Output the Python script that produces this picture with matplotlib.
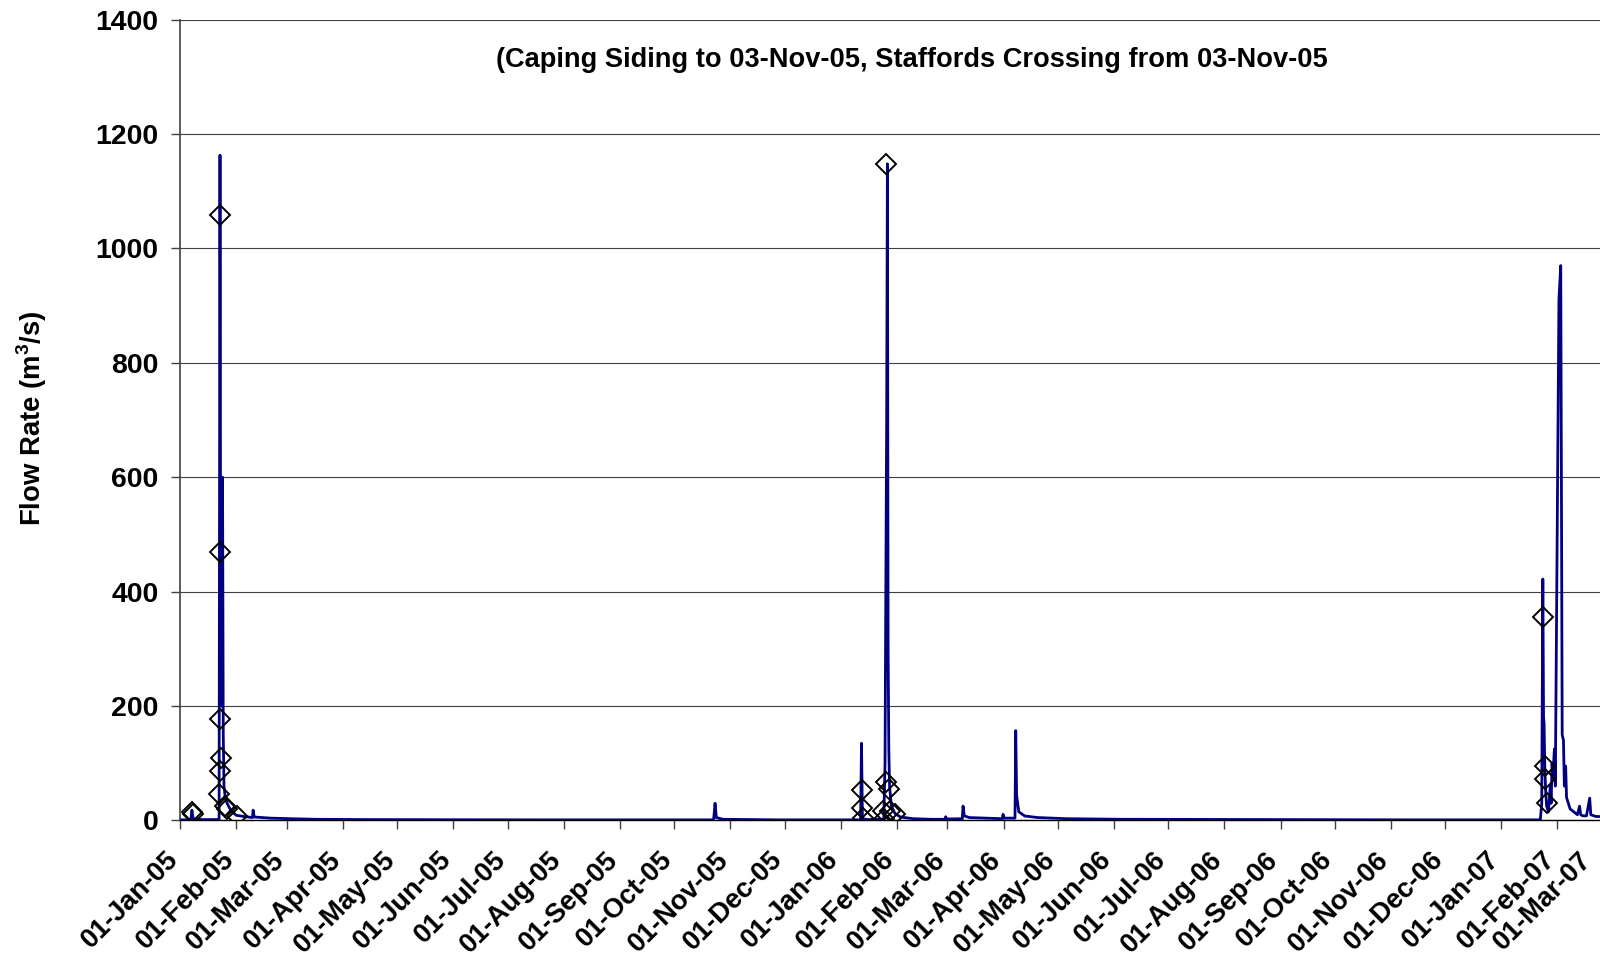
import numpy as np
import pandas as pd
import matplotlib
matplotlib.use("Agg")
import matplotlib.pyplot as plt
import matplotlib.dates as mdates
import matplotlib.transforms as mtransforms

plt.rcParams['font.family'] = ['Liberation Sans', 'DejaVu Sans']
plt.rcParams['font.weight'] = 'bold'
plt.rcParams['mathtext.fontset'] = 'custom'
plt.rcParams['mathtext.rm'] = 'Liberation Sans:bold'
plt.rcParams['mathtext.bf'] = 'Liberation Sans:bold'

start = pd.Timestamp("2005-01-01")

# continuous flow record (days since 01-Jan-05, m3/s)
flow_day = [0, 6.0, 6.6, 7.0, 7.4, 8.5, 21.6, 22.1, 22.5, 23.0, 23.5, 23.9,
            24.3, 25.0, 26.0, 28.0, 31.0, 35.0, 40.0, 40.4, 41.0, 50, 61, 75,
            100, 150, 200, 250, 294.8, 295.6, 296.3, 300, 330, 360, 376.0,
            376.5, 377.0, 380, 388.8, 389.5, 389.9, 390.4, 390.8, 391.2,
            391.6, 392.0, 393.0, 395.0, 398.0, 405, 415, 422.5, 423.0, 423.6,
            432.2, 432.6, 433.3, 436, 445, 454.3, 454.7, 455.3, 461.3, 461.7,
            462.2, 463.4, 466.7, 474, 490, 520, 600, 680, 751.5, 752.3, 752.9,
            753.3, 753.6, 754.0, 754.5, 755.0, 756.0, 757.0, 757.5, 758.0,
            758.5, 759.3, 759.8, 761.8, 762.8, 763.6, 764.3, 764.8, 765.5,
            766.0, 767.0, 768.0, 770.0, 772.0, 773.2, 773.8, 775.0, 777.0,
            778.8, 779.4, 782.0, 792.0]
flow_val = [1, 1, 18, 8, 3, 1.5, 1.5, 1163, 300, 200, 600, 150,
            60, 40, 30, 18, 9, 7, 5, 18, 6, 4, 3, 2,
            1.5, 1.2, 1, 1, 1, 30, 5, 2, 1, 1, 1,
            135, 3, 1.5, 2, 100, 380, 700, 1148, 300,
            123, 60, 25, 12, 6, 3, 2, 2, 6.5, 2.5,
            3, 25, 8, 5, 4, 3, 10.7, 4, 4, 157,
            44, 15, 7.7, 5, 3, 2, 1.5, 1, 1, 30, 422,
            180, 170, 90, 50, 25, 15, 60, 30, 100,
            80, 125, 60, 911, 970, 150, 140, 60, 95,
            40, 30, 20, 15, 10, 25, 10, 8, 8,
            39, 10, 7, 6]

# water quality sampling points
sample_day = [6.5, 7.1, 22.3, 22.3, 22.3, 22.9, 22.3, 21.8, 24.6, 25.7, 31.3,
              376.5, 376.5, 377.5, 390.3, 389.8, 391.5, 388.6, 392.0, 394.8,
              388.8, 753.1, 753.9, 753.9, 755.4]
sample_val = [14, 11, 1058, 469, 178, 109, 87, 46, 25, 20, 7,
              53, 22, 5, 1148, 68, 55, 16, 16, 12,
              3, 355, 95, 72, 31]

flow_dates = start + pd.to_timedelta(flow_day, unit="D")
sample_dates = start + pd.to_timedelta(sample_day, unit="D")

fig = plt.figure(figsize=(16, 9.59), dpi=100)
ax = fig.add_axes([0.1125, 0.1445, 0.896, 0.835])

ax.plot(flow_dates, flow_val, color='#000080', lw=2.0, zorder=3)
ax.plot(sample_dates, sample_val, ls='none', marker='D', markersize=10.5,
        markerfacecolor='none', markeredgecolor='black', markeredgewidth=1.4,
        zorder=4)

ax.set_ylim(0, 1400)
ax.set_yticks(np.arange(0, 1401, 200))
ax.set_xlim(start, start + pd.Timedelta(days=792))
ax.xaxis.set_major_locator(mdates.MonthLocator())
ax.xaxis.set_major_formatter(mdates.DateFormatter('%d-%b-%y'))

ax.grid(axis='y', color='#404040', lw=0.8)
ax.set_axisbelow(True)
for s in ['top', 'right']:
    ax.spines[s].set_visible(False)
ax.spines['left'].set_color('#404040')
ax.spines['left'].set_linewidth(1.2)
ax.spines['bottom'].set_color('black')
ax.spines['bottom'].set_linewidth(1.0)

ax.tick_params(axis='y', direction='out', length=6.5, width=1, pad=9,
               labelsize=20.5, color='#404040')
ax.tick_params(axis='x', direction='out', length=6.5, width=1, pad=19,
               labelsize=19.5, color='#404040')
offset = mtransforms.ScaledTranslation(-6 / 100, 0, fig.dpi_scale_trans)
for lab in ax.get_xticklabels():
    lab.set_rotation(45)
    lab.set_ha('right')
    lab.set_va('center')
    lab.set_rotation_mode('anchor')
    lab.set_fontweight('bold')
    lab.set_transform(lab.get_transform() + offset)
for lab in ax.get_yticklabels():
    lab.set_fontweight('bold')

fig.text(32 / 1600, 1 - 418 / 959, r'Flow Rate (m$^{3}$/s)', rotation=90,
         ha='center', va='center', fontsize=19.8, fontweight='bold')
fig.text(912 / 1600, 1 - 60 / 959,
         '(Caping Siding to 03-Nov-05, Staffords Crossing from 03-Nov-05',
         ha='center', va='center', fontsize=19.6, fontweight='bold')

# keep the last date label inside the picture, as the original does
fig.canvas.draw()
renderer = fig.canvas.get_renderer()
fig_w = fig.get_figwidth() * fig.dpi
for lab in ax.get_xticklabels():
    if not lab.get_visible() or not lab.get_text():
        continue
    bb = lab.get_window_extent(renderer)
    if bb.x1 > fig_w - 3:
        shift = (bb.x1 - (fig_w - 3)) / fig.dpi
        lab.set_transform(lab.get_transform()
                          + mtransforms.ScaledTranslation(-shift, 0,
                                                          fig.dpi_scale_trans))

fig.savefig('out.png', dpi=100)
